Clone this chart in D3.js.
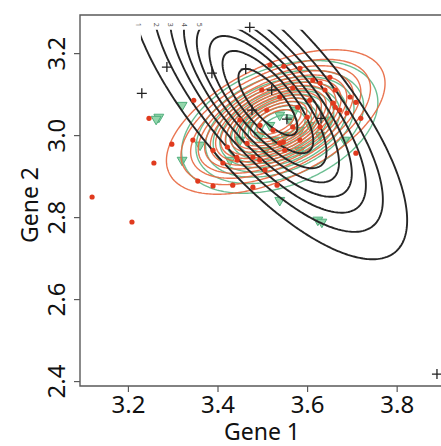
<!DOCTYPE html>
<html><head><meta charset="utf-8">
<script src="https://cdn.jsdelivr.net/npm/d3@7/dist/d3.min.js"></script>
<style>body{margin:0;background:#fff}svg{display:block}</style>
</head><body>
<svg id="chart" width="441" height="446"></svg>
<script>
// ---- axis setup ----
const xTicks = [3.2, 3.4, 3.6, 3.8];
const yTicks = [2.4, 2.6, 2.8, 3.0, 3.2];
const xDomain = [3.093, 3.899];
const yDomain = [2.388, 3.293];
const xLabel = "Gene 1";
const yLabel = "Gene 2";

// ---- observations ----
const blackX = [3.472, 3.287, 3.3875, 3.463, 3.231, 3.477, 3.555, 3.631, 3.521, 3.890];
const blackY = [3.263, 3.166, 3.151, 3.161, 3.102, 3.061, 3.039, 3.041, 3.110, 2.417];

const redX = [3.120, 3.209, 3.247, 3.258, 3.298, 3.347, 3.356, 3.390, 3.434, 3.479, 3.533, 3.709, 3.720, 3.689, 3.709,
  3.517, 3.548, 3.584, 3.613, 3.640, 3.658, 3.568, 3.539, 3.510, 3.568, 3.600, 3.524, 3.466, 3.443, 3.412, 3.479,
  3.539, 3.629, 3.673, 3.390, 3.345, 3.606, 3.629, 3.579, 3.499, 3.651, 3.696, 3.495, 3.450, 3.584, 3.550, 3.506,
  3.444, 3.494, 3.422, 3.547, 3.663, 3.663];
const redY = [2.849, 2.788, 3.041, 2.932, 2.978, 3.085, 2.888, 2.876, 2.878, 2.873, 2.878, 2.956, 3.041, 3.054, 3.080,
  3.171, 3.168, 3.163, 3.134, 3.110, 3.078, 3.115, 3.093, 3.061, 3.020, 3.044, 3.012, 2.980, 2.946, 2.932, 2.946,
  2.980, 3.020, 3.061, 2.963, 2.988, 3.085, 3.127, 3.068, 3.110, 3.141, 3.093, 3.024, 3.037, 2.988, 2.963, 2.915,
  2.939, 2.939, 2.971, 2.983, 3.068, 3.110];

const greenX = [3.269, 3.263, 3.321, 3.321, 3.624, 3.633, 3.539, 3.361, 3.517, 3.562, 3.584, 3.539, 3.495, 3.606,
  3.528, 3.573, 3.472, 3.629, 3.450, 3.651, 3.506, 3.584, 3.550, 3.428, 3.684];
const greenY = [3.044, 3.039, 3.073, 2.939, 2.793, 2.788, 2.841, 2.976, 3.024, 3.037, 3.012, 3.049, 3.000, 3.024,
  2.988, 3.061, 3.024, 3.000, 2.988, 3.037, 2.963, 2.963, 3.000, 2.939, 2.988];

// ---- fitted bivariate normal components (mean, sd, correlation) and contour levels ----
const blackMean = [3.5125, 3.0805], blackSd = [0.149, 0.1837], blackRho = -0.752;
const blackLevels = [1, 2, 3, 4, 5, 6, 7, 8];
const blackLabelLevels = [1, 2, 3, 4, 5];
const blackClipX = [3.229, 3.892], blackClipY = [2.417, 3.257];

const redMean = [3.530, 3.032], redSd = [0.1033, 0.0746], redRho = 0.534;
const redLevels = [1.5, 3, 4.5, 6, 7.5, 9, 10.5, 12, 13.5, 15, 16.5, 18, 19.5, 21, 22.5];

const greenMean = [3.539, 3.020], greenSd = [0.0966, 0.0714], greenRho = 0.369;
const greenLevels = [1.9, 3.8, 5.7, 7.6, 9.5, 11.4, 13.3, 15.2, 17.1, 19.0, 20.9, 22.8];

// ---- layout ----
const svg = d3.select("#chart");
const L = 80, R = 441, T = 15, B = 386;
const x = d3.scaleLinear().domain(xDomain).range([L, R]);
const y = d3.scaleLinear().domain(yDomain).range([B, T]);
const font = "'Noto Sans', 'Open Sans', sans-serif";

const defs = svg.append("defs");
defs.append("clipPath").attr("id", "plotClip").append("rect")
  .attr("x", L).attr("y", T).attr("width", R - L).attr("height", B - T);
defs.append("clipPath").attr("id", "blackClip").append("rect")
  .attr("x", x(blackClipX[0])).attr("y", y(blackClipY[1]))
  .attr("width", x(blackClipX[1]) - x(blackClipX[0]))
  .attr("height", y(blackClipY[0]) - y(blackClipY[1]));

// density grid
const N = 240, M = 240;
const gx0 = xDomain[0] - 0.05, gx1 = xDomain[1] + 0.05;
const gy0 = yDomain[0] - 0.05, gy1 = yDomain[1] + 0.05;
const dx = (gx1 - gx0) / (N - 1), dy = (gy1 - gy0) / (M - 1);
function grid(mean, sd, rho) {
  const v = new Float64Array(N * M);
  const k = 1 / (2 * Math.PI * sd[0] * sd[1] * Math.sqrt(1 - rho * rho));
  for (let j = 0; j < M; j++) {
    const yy = gy1 - j * dy;
    for (let i = 0; i < N; i++) {
      const xx = gx0 + i * dx;
      const u = (xx - mean[0]) / sd[0], w = (yy - mean[1]) / sd[1];
      const q = (u * u - 2 * rho * u * w + w * w) / (1 - rho * rho);
      v[j * N + i] = k * Math.exp(-q / 2);
    }
  }
  return v;
}
const proj = d3.geoTransform({
  point(cx, cy) {
    this.stream.point(x(gx0 + (cx - 0.5) * dx), y(gy1 - (cy - 0.5) * dy));
  }
});
const path = d3.geoPath(proj);
function drawContours(g, mean, sd, rho, levels, color, width) {
  const cs = d3.contours().size([N, M]).thresholds(levels)(grid(mean, sd, rho));
  g.selectAll(null).data(cs).join("path")
    .attr("d", path).attr("fill", "none")
    .attr("stroke", color).attr("stroke-width", width)
    .attr("stroke-linejoin", "round");
}

const plot = svg.append("g").attr("clip-path", "url(#plotClip)");

// green triangles sit underneath the contour lines
plot.append("g").selectAll(".tri").data(greenX.map((d, i) => [d, greenY[i]])).join("path")
  .attr("class", "tri")
  .attr("d", d3.symbol(d3.symbolTriangle, 42))
  .attr("transform", d => `translate(${x(d[0])},${y(d[1])}) rotate(180)`)
  .attr("fill", "#93d6ab").attr("stroke", "#4fae7c").attr("stroke-width", 1);

const gGreen = plot.append("g").attr("opacity", 0.9);
const gRed = plot.append("g").attr("opacity", 0.9);
drawContours(gGreen, greenMean, greenSd, greenRho, greenLevels, "#5cb887", 1.4);
drawContours(gRed, redMean, redSd, redRho, redLevels, "#e8673f", 1.4);
const gBlack = plot.append("g").attr("clip-path", "url(#blackClip)");
drawContours(gBlack, blackMean, blackSd, blackRho, blackLevels, "#262626", 1.9);

// black contour labels at the top ends of the left arms
{
  const peak = 1 / (2 * Math.PI * blackSd[0] * blackSd[1] * Math.sqrt(1 - blackRho * blackRho));
  const v = (blackClipY[1] - blackMean[1]) / blackSd[1];
  blackLabelLevels.forEach(lv => {
    const r2 = 2 * Math.log(peak / lv);
    const disc = (1 - blackRho * blackRho) * (r2 - v * v);
    if (disc < 0) return;
    const u = blackRho * v - Math.sqrt(disc);
    const xv = blackMean[0] + u * blackSd[0];
    plot.append("text")
      .attr("transform", `translate(${x(xv)},${y(blackClipY[1]) - 3}) rotate(90)`)
      .attr("text-anchor", "end").attr("dy", "0.35em")
      .attr("font-family", font).attr("font-size", 7).attr("fill", "#555")
      .text(lv);
  });
}

// points
const gPts = svg.append("g");
gPts.selectAll(".dot").data(redX.map((d, i) => [d, redY[i]])).join("circle")
  .attr("class", "dot")
  .attr("cx", d => x(d[0])).attr("cy", d => y(d[1])).attr("r", 2.6)
  .attr("fill", "#e03a1e");
gPts.selectAll(".plus").data(blackX.map((d, i) => [d, blackY[i]])).join("path")
  .attr("class", "plus")
  .attr("d", "M-5,0H5M0,-5V5")
  .attr("transform", d => `translate(${x(d[0])},${y(d[1])})`)
  .attr("stroke", "#222").attr("stroke-width", 1.3).attr("fill", "none");

// frame
svg.append("path")
  .attr("d", `M${R + 2},${T}H${L}V${B}H${R + 2}`)
  .attr("fill", "none").attr("stroke", "#5a5a5a").attr("stroke-width", 1.4);

// axes
const ax = svg.append("g").attr("transform", `translate(0,${B})`)
  .call(d3.axisBottom(x).tickValues(xTicks).tickSize(6).tickSizeOuter(0).tickFormat(d3.format(".1f")));
ax.select(".domain").remove();
ax.selectAll(".tick line").attr("stroke", "#5a5a5a").attr("stroke-width", 1.2);
ax.selectAll(".tick text").attr("y", 27).attr("dy", 0)
  .attr("font-family", font).attr("font-size", 24).attr("fill", "#111");

const ay = svg.append("g").attr("transform", `translate(${L},0)`)
  .call(d3.axisLeft(y).tickValues(yTicks).tickSize(6).tickSizeOuter(0).tickFormat(d3.format(".1f")));
ay.select(".domain").remove();
ay.selectAll(".tick line").attr("stroke", "#5a5a5a").attr("stroke-width", 1.2);
ay.selectAll(".tick text")
  .attr("transform", "rotate(-90)").attr("x", 0).attr("y", -15).attr("dy", 0)
  .attr("text-anchor", "middle")
  .attr("font-family", font).attr("font-size", 24).attr("fill", "#111");

svg.append("text").attr("x", 262).attr("y", 440).attr("text-anchor", "middle")
  .attr("font-family", font).attr("font-size", 23).attr("fill", "#111").text(xLabel);
svg.append("text").attr("transform", "translate(38,205) rotate(-90)").attr("text-anchor", "middle")
  .attr("font-family", font).attr("font-size", 23).attr("fill", "#111").text(yLabel);
</script>
</body></html>
